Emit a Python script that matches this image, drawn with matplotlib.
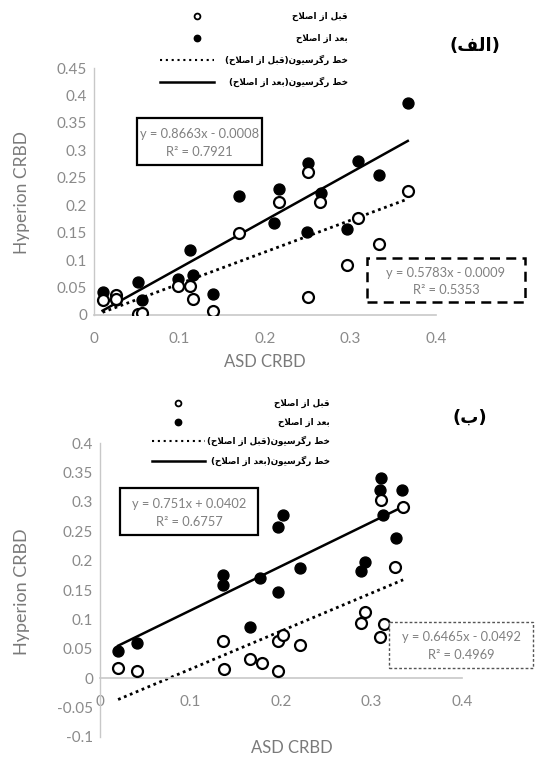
import matplotlib
matplotlib.use("Agg")
import matplotlib.pyplot as plt
from matplotlib.patches import Rectangle
from matplotlib.lines import Line2D
import numpy as np

# ---------------- data ----------------
# Panel (الف)
a_x_before = [0.010, 0.026, 0.026, 0.052, 0.056, 0.098, 0.112, 0.116, 0.139, 0.170,
              0.216, 0.250, 0.264, 0.250, 0.296, 0.309, 0.333, 0.367]
a_y_before = [0.027, 0.036, 0.030, 0.002, 0.003, 0.053, 0.053, 0.029, 0.008, 0.149,
              0.205, 0.261, 0.205, 0.033, 0.091, 0.176, 0.129, 0.226]
a_x_after = [0.010, 0.026, 0.052, 0.056, 0.098, 0.116, 0.112, 0.139, 0.170, 0.211,
             0.216, 0.249, 0.250, 0.265, 0.296, 0.309, 0.333, 0.367]
a_y_after = [0.042, 0.028, 0.061, 0.027, 0.065, 0.073, 0.118, 0.039, 0.217, 0.167,
             0.229, 0.152, 0.277, 0.222, 0.156, 0.281, 0.255, 0.386]
a_fit_before = (0.5783, -0.0009, 0.5353)
a_fit_after = (0.8663, -0.0008, 0.7921)

# Panel (ب)
b_x_before = [0.020, 0.041, 0.136, 0.137, 0.166, 0.179, 0.197, 0.202, 0.197, 0.221,
              0.288, 0.293, 0.309, 0.314, 0.311, 0.326, 0.335]
b_y_before = [0.017, 0.013, 0.063, 0.015, 0.033, 0.026, 0.063, 0.073, 0.013, 0.057,
              0.094, 0.113, 0.070, 0.093, 0.303, 0.189, 0.291]
b_x_after = [0.020, 0.041, 0.136, 0.136, 0.177, 0.166, 0.197, 0.202, 0.197, 0.221,
             0.288, 0.293, 0.311, 0.309, 0.3125, 0.327, 0.334]
b_y_after = [0.047, 0.060, 0.175, 0.158, 0.171, 0.087, 0.257, 0.278, 0.147, 0.187,
             0.183, 0.197, 0.341, 0.320, 0.278, 0.238, 0.320]
b_fit_before = (0.6465, -0.0492, 0.4969)
b_fit_after = (0.751, 0.0402, 0.6757)

a_yticks = [0, 0.05, 0.1, 0.15, 0.2, 0.25, 0.3, 0.35, 0.4, 0.45]
b_yticks = [-0.1, -0.05, 0, 0.05, 0.1, 0.15, 0.2, 0.25, 0.3, 0.35, 0.4]
xticks = [0, 0.1, 0.2, 0.3, 0.4]

legend_labels = ["قبل از اصلاح", "بعد از اصلاح",
                 "خط رگرسیون(قبل از اصلاح)", "خط رگرسیون(بعد از اصلاح)"]
panel_labels = ["(الف)", "(ب)"]
x_title = "ASD CRBD"
y_title = "Hyperion CRBD"

# ---------------- Arabic shaping for matplotlib ----------------
FORMS = {
    'ا': ('\uFE8D', '\uFE8E', None, None),
    'ب': ('\uFE8F', '\uFE90', '\uFE91', '\uFE92'),
    'ح': ('\uFEA1', '\uFEA2', '\uFEA3', '\uFEA4'),
    'خ': ('\uFEA5', '\uFEA6', '\uFEA7', '\uFEA8'),
    'د': ('\uFEA9', '\uFEAA', None, None),
    'ر': ('\uFEAD', '\uFEAE', None, None),
    'ز': ('\uFEAF', '\uFEB0', None, None),
    'س': ('\uFEB1', '\uFEB2', '\uFEB3', '\uFEB4'),
    'ص': ('\uFEB9', '\uFEBA', '\uFEBB', '\uFEBC'),
    'ط': ('\uFEC1', '\uFEC2', '\uFEC3', '\uFEC4'),
    'ع': ('\uFEC9', '\uFECA', '\uFECB', '\uFECC'),
    'ف': ('\uFED1', '\uFED2', '\uFED3', '\uFED4'),
    'ق': ('\uFED5', '\uFED6', '\uFED7', '\uFED8'),
    'ل': ('\uFEDD', '\uFEDE', '\uFEDF', '\uFEE0'),
    'ن': ('\uFEE5', '\uFEE6', '\uFEE7', '\uFEE8'),
    'و': ('\uFEED', '\uFEEE', None, None),
    'ی': ('\uFBFC', '\uFBFD', '\uFBFE', '\uFBFF'),
    'گ': ('\uFB92', '\uFB93', '\uFB94', '\uFB95'),
}


def rtl(text):
    def joins_next(c):
        return c in FORMS and FORMS[c][2] is not None
    out = []
    i, n = 0, len(text)
    while i < n:
        c = text[i]
        if c not in FORMS:
            out.append(c)
            i += 1
            continue
        prev = text[i - 1] if i > 0 else None
        cp = prev is not None and joins_next(prev)
        if c == 'ل' and i + 1 < n and text[i + 1] == 'ا':
            out.append('\uFEFC' if cp else '\uFEFB')
            i += 2
            continue
        nxt = text[i + 1] if i + 1 < n else None
        cn = joins_next(c) and nxt is not None and nxt in FORMS
        iso, fin, ini, med = FORMS[c]
        out.append(med if (cp and cn) else fin if cp else ini if cn else iso)
        i += 1
    return ''.join(out)[::-1].translate(str.maketrans('()', ')('))


# ---------------- figure ----------------
W, H = 535, 762
fig = plt.figure(figsize=(W / 100, H / 100), dpi=100)
fig.patch.set_facecolor("white")

NUM_FONT = ["Lato", "DejaVu Sans"]
AR_FONT = ["DejaVu Sans"]
TICK_C = "#8a8a8a"
AXIS_C = "#c8c8c8"
EQ_C = "#808080"


def fx(px):
    return px / W


def fy(py):
    return 1 - py / H


def make_axes(rect, ylim, yticks):
    ax = fig.add_axes(rect)
    ax.set_xlim(0, 0.4)
    ax.set_ylim(*ylim)
    for s in ("top", "right"):
        ax.spines[s].set_visible(False)
    ax.spines["left"].set_color(AXIS_C)
    ax.spines["bottom"].set_color(AXIS_C)
    ax.spines["left"].set_linewidth(1.0)
    ax.spines["bottom"].set_linewidth(1.2)
    ax.spines["bottom"].set_position(("data", 0))
    ax.set_xticks(xticks)
    ax.set_xticklabels([f"{t:g}" for t in xticks])
    ax.set_yticks(yticks)
    ax.set_yticklabels([f"{t:g}" for t in yticks])
    ax.tick_params(length=0, colors=TICK_C, labelsize=11)
    ax.tick_params(axis="x", pad=12)
    ax.tick_params(axis="y", pad=5)
    for lab in ax.get_xticklabels() + ax.get_yticklabels():
        lab.set_family(NUM_FONT)
    ax.patch.set_alpha(0)
    return ax


def draw_panel(ax, xb, yb, xa, ya, fit_b, fit_a):
    ax.scatter(xb, yb, s=62, facecolors="white", edgecolors="black",
               linewidths=1.6, zorder=4)
    ax.scatter(xa, ya, s=62, facecolors="black", edgecolors="black",
               linewidths=1.0, zorder=3)
    xs = np.array([min(xb), max(xb)])
    ax.plot(xs, fit_b[0] * xs + fit_b[1], color="black", lw=2.0,
            linestyle=(0, (1, 1.3)), zorder=2)
    xs = np.array([min(xa), max(xa)])
    ax.plot(xs, fit_a[0] * xs + fit_a[1], color="black", lw=1.8, zorder=2)


def eq_text(fit):
    m, b, r2 = fit
    sign = "-" if b < 0 else "+"
    return f"y = {m:g}x {sign} {abs(b):.4f}", f"R² = {r2:.4f}"


def eq_box(x0, y0, x1, y1, fit, ls, lw, ec):
    rect = Rectangle((fx(x0), fy(y1)), fx(x1) - fx(x0), fy(y0) - fy(y1),
                     transform=fig.transFigure, fill=True, facecolor="white",
                     edgecolor=ec, linewidth=lw, linestyle=ls, zorder=5)
    fig.add_artist(rect)
    l1, l2 = eq_text(fit)
    cx = fx((x0 + x1) / 2)
    h = y1 - y0
    fig.text(cx, fy(y0 + h * 0.33), l1, ha="center", va="center",
             fontsize=9.3, color=EQ_C, family=NUM_FONT, zorder=6)
    fig.text(cx, fy(y0 + h * 0.72), l2, ha="center", va="center",
             fontsize=9.3, color=EQ_C, family=NUM_FONT, zorder=6)


def legend(x_mark, x_line0, x_line1, x_text, rows):
    kinds = ["open", "filled", "dotted", "solid"]
    for kind, label, yy in zip(kinds, legend_labels, rows):
        if kind == "open":
            fig.add_artist(Line2D([fx(x_mark)], [fy(yy)], marker="o",
                                  markersize=4.2, markerfacecolor="white",
                                  markeredgecolor="black", markeredgewidth=1.3,
                                  transform=fig.transFigure))
        elif kind == "filled":
            fig.add_artist(Line2D([fx(x_mark)], [fy(yy)], marker="o",
                                  markersize=4.6, color="black",
                                  transform=fig.transFigure))
        elif kind == "dotted":
            fig.add_artist(Line2D([fx(x_line0), fx(x_line1)], [fy(yy), fy(yy)],
                                  color="black", lw=1.5, linestyle=(0, (1, 1.8)),
                                  transform=fig.transFigure))
        else:
            fig.add_artist(Line2D([fx(x_line0), fx(x_line1)], [fy(yy), fy(yy)],
                                  color="black", lw=1.8,
                                  transform=fig.transFigure))
        fig.text(fx(x_text), fy(yy), rtl(label), ha="right", va="center",
                 fontsize=6.3, fontweight="bold", family=AR_FONT, color="black")


# ---- panel (الف)
ax1 = make_axes([fx(94), fy(315), fx(436) - fx(94), fy(68) - fy(315)],
                (0, 0.45), a_yticks)
draw_panel(ax1, a_x_before, a_y_before, a_x_after, a_y_after,
           a_fit_before, a_fit_after)
ax1.set_xlabel(x_title, fontsize=12, color="#7a7a7a", family=NUM_FONT,
               labelpad=6)
fig.text(fx(22), fy(192), y_title, rotation=90, ha="center", va="center",
         fontsize=12.5, color="#7a7a7a", family=NUM_FONT)
eq_box(137, 118, 262, 165, a_fit_after, "-", 1.6, "black")
eq_box(367, 258, 525, 302, a_fit_before, (0, (4, 2.5)), 1.8, "black")
legend(197, 160, 214, 348, [16, 38, 60, 82])
fig.text(fx(475), fy(46), rtl(panel_labels[0]), ha="center", va="center",
         fontsize=13, fontweight="bold", family=AR_FONT, color="black")

# ---- panel (ب)
ax2 = make_axes([fx(100), fy(737), fx(462) - fx(100), fy(443) - fy(737)],
                (-0.1, 0.4), b_yticks)
draw_panel(ax2, b_x_before, b_y_before, b_x_after, b_y_after,
           b_fit_before, b_fit_after)
fig.text(fx(292), fy(748), x_title, ha="center", va="center",
         fontsize=12, color="#7a7a7a", family=NUM_FONT)
fig.text(fx(22), fy(592), y_title, rotation=90, ha="center", va="center",
         fontsize=13, color="#7a7a7a", family=NUM_FONT)
eq_box(120, 488, 258, 535, b_fit_after, "-", 1.6, "black")
eq_box(389, 622, 533, 668, b_fit_before, (0, (2, 1.5)), 1.0, "#555555")
legend(178, 152, 205, 330, [403, 422, 441, 461])
fig.text(fx(470), fy(418), rtl(panel_labels[1]), ha="center", va="center",
         fontsize=13, fontweight="bold", family=AR_FONT, color="black")

fig.savefig("out.png", dpi=100)
